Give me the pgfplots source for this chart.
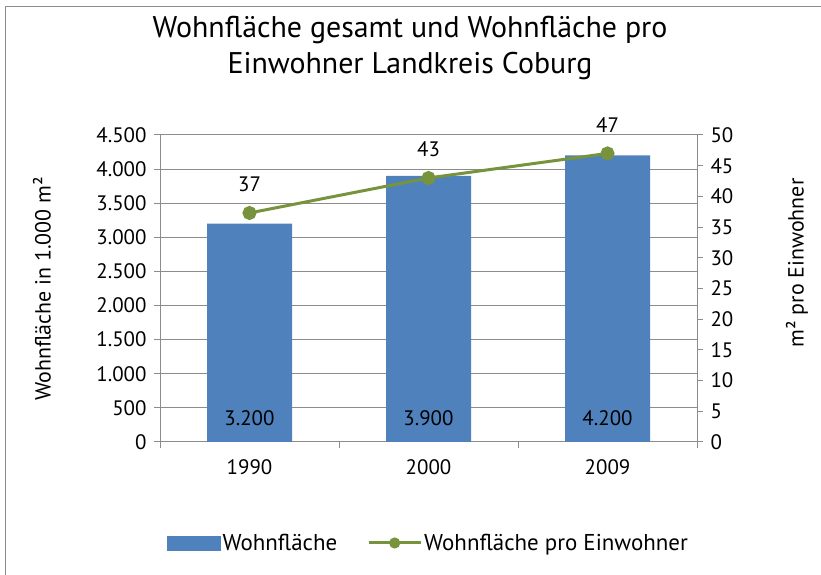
\documentclass[border=0pt]{standalone}
\usepackage{pgfplots}
\pgfplotsset{compat=1.18}
\usepackage{fontspec}
\setmainfont{PT Sans}
\definecolor{barblue}{HTML}{4F81BD}
\definecolor{linegreen}{HTML}{77933C}
\definecolor{axgray}{HTML}{8C8C8C}
\newcommand{\tfont}{\fontsize{21}{25}\selectfont}
\begin{document}
\begin{tikzpicture}[x=1bp,y=1bp]
\useasboundingbox (0,0) rectangle (821,575);
\draw[axgray, line width=1.5bp] (5.5,0) -- (5.5,568.5) -- (821,568.5);
\node[align=center, font=\fontsize{30}{36}\selectfont] at (410,527) {Wohnfläche gesamt und Wohnfläche pro\\Einwohner Landkreis Coburg};
\node[rotate=90, font=\fontsize{22}{26}\selectfont] at (42,286) {Wohnfläche in 1.000 m²};
\node[rotate=90, font=\fontsize{22}{26}\selectfont] at (797,312) {m² pro Einwohner};
\begin{axis}[
  at={(160bp,133bp)}, anchor=south west,
  scale only axis, width=537bp, height=307bp,
  xmin=-0.5, xmax=2.5, ymin=0, ymax=4500,
  xtick={0,1,2}, xticklabels={1990,2000,2009},
  major x tick style={draw=none},
  minor xtick={-0.5,0.5,1.5,2.5},
  ytick={0,500,...,4500},
  ymajorgrids, grid style={axgray, line width=1bp},
  axis x line*=bottom, axis y line*=left,
  axis line style={axgray, line width=1bp},
  tick style={axgray, line width=1bp},
  tick align=outside, major tick length=6bp, minor tick length=6bp,
  /pgf/number format/1000 sep={.},
  /pgf/number format/assume math mode=true,
  ticklabel style={font=\tfont},
  yticklabel style={xshift=-4bp},
  xticklabel style={yshift=-8bp},
  clip=false,
]
\addplot[ybar, bar width=85bp, fill=barblue, draw=none] coordinates {(0,3200) (1,3900) (2,4200)};
\addplot[draw=none, mark=none, nodes near coords, point meta=explicit symbolic,
  nodes near coords style={anchor=center, font=\tfont, text=black}]
  coordinates {(0,350)[3.200] (1,350)[3.900] (2,350)[4.200]};
\end{axis}
\begin{axis}[
  at={(160bp,133bp)}, anchor=south west,
  scale only axis, width=537bp, height=307bp,
  xmin=-0.5, xmax=2.5, ymin=0, ymax=50,
  axis x line=none, axis y line*=right,
  ytick={0,5,...,50},
  axis line style={axgray, line width=1bp},
  tick style={axgray, line width=1bp},
  tick align=outside, major tick length=6bp,
  /pgf/number format/assume math mode=true,
  ticklabel style={font=\tfont},
  yticklabel style={xshift=4bp},
  clip=false,
  legend style={at={(0.5,-0.329)}, anchor=center, draw=none, fill=none,
    legend columns=2, font=\fontsize{23}{27}\selectfont,
    /tikz/every even column/.append style={column sep=28bp}},
  legend cell align=left,
]
\addlegendimage{legend image code/.code={\fill[barblue] (0bp,-7bp) rectangle (53bp,7bp);}}
\addlegendentry{Wohnfläche}
\addplot[linegreen, line width=3bp, mark=*, mark size=5.5bp, mark options={fill=linegreen},
  nodes near coords, point meta=explicit symbolic,
  nodes near coords style={anchor=south, yshift=16bp, text=black, font=\tfont},
  legend image code/.code={\draw[linegreen, line width=3bp] (0bp,0bp) -- (52bp,0bp); \fill[linegreen] (26bp,0bp) circle (4bp);}]
  coordinates {(0,37.3)[37] (1,43)[43] (2,47)[47]};
\addlegendentry{Wohnfläche pro Einwohner}
\end{axis}
\end{tikzpicture}
\end{document}
